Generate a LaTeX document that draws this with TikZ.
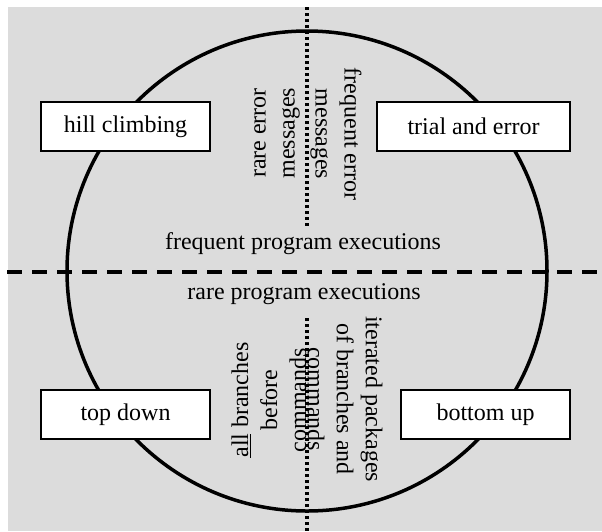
\documentclass[tikz,border=0pt]{standalone}
\usepackage{fontspec}
\setmainfont{Liberation Serif}
\definecolor{panel}{RGB}{220,220,220}
\begin{document}
\begin{tikzpicture}[x=1pt,y=-1pt,
    lbl/.style={font=\fontsize{24}{29}\selectfont, inner sep=0pt, align=center},
    method/.style={lbl, draw=black, line width=2pt, fill=white,
                   minimum height=49pt},
    rim/.style={line width=3.5pt},
    splitter/.style={line width=4pt, dash pattern=on 15pt off 10pt},
    divider/.style={line width=3.5pt, dash pattern=on 3pt off 3pt}]
  \useasboundingbox (0,0) rectangle (602,531);
  \fill[panel] (8,7) rectangle (602,531);

  % outer circle
  \coordinate (c) at (307,271);
  \draw[rim] (c) circle[radius=240];

  % axes
  \coordinate (wl) at (7,272);
  \coordinate (wr) at (602,272);
  \draw[splitter] (wl) -- (wr);
  \coordinate (nt) at (307,7);
  \coordinate (nb) at (307,227);
  \draw[divider] (nt) -- (nb);
  \coordinate (st) at (307,318);
  \coordinate (sb) at (307,531);
  \draw[divider] (st) -- (sb);

  % horizontal captions
  \node[lbl] (freq) at (303,244) {frequent program executions};
  \node[lbl] (rare) at (304,294) {rare program executions};

  % vertical captions
  \node[lbl, rotate=90]  (rerr) at (277,133) {rare error\\messages};
  \node[lbl, rotate=-90] (ferr) at (336,134) {frequent error\\messages};
  \node[lbl, rotate=90]  (allb) at (269,400) {\underline{all} branches\\before\\commands};
  \node[lbl, rotate=-90] (iter) at (345,399) {iterated packages\\of branches and\\commands};

  % method boxes
  \node[method, minimum width=169pt] (hill)  at (125.5,126.5) {hill climbing};
  \node[method, minimum width=193pt] (trial) at (473.5,126.5) {trial and error};
  \node[method, minimum width=169pt] (top)   at (125.5,414.5) {top down};
  \node[method, minimum width=169pt] (bot)   at (485.5,414.5) {bottom up};
\end{tikzpicture}
\end{document}
